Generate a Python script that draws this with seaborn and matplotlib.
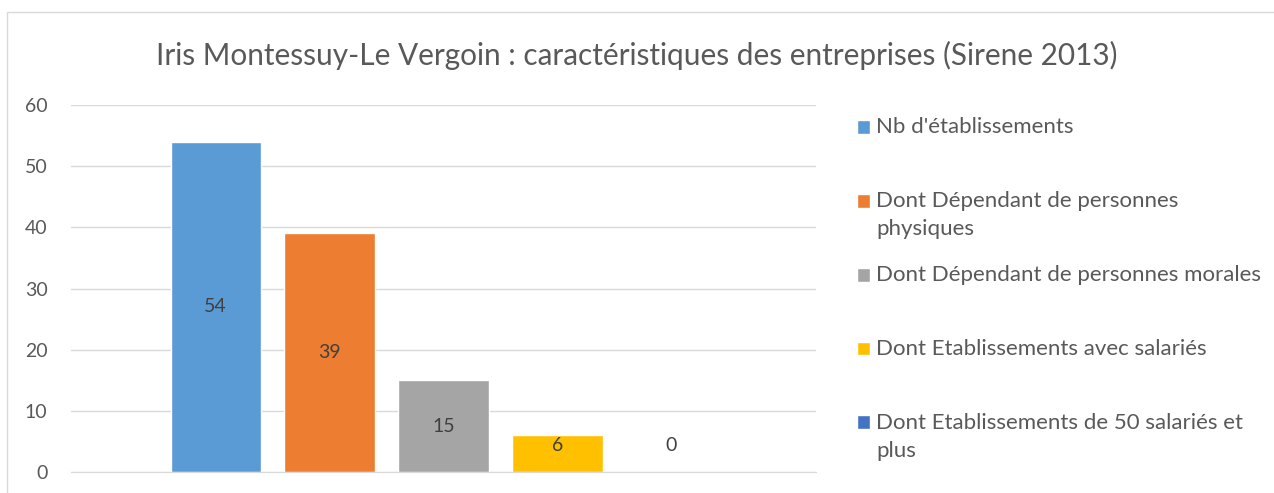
import numpy as np
import pandas as pd
import matplotlib.pyplot as plt
import seaborn as sns
from matplotlib.patches import Rectangle
from matplotlib.legend_handler import HandlerPatch

# données
series = [
    "Nb d'établissements",
    "Dont Dépendant de personnes\nphysiques",
    "Dont Dépendant de personnes morales",
    "Dont Etablissements avec salariés",
    "Dont Etablissements de 50 salariés et\nplus",
]
valeurs = [54, 39, 15, 6, 0]
couleurs = ["#5B9BD5", "#ED7D31", "#A5A5A5", "#FFC000", "#4472C4"]
titre = "Iris Montessuy-Le Vergoin : caractéristiques des entreprises (Sirene 2013)"

df = pd.DataFrame({"groupe": [""] * len(series), "serie": series, "valeur": valeurs})

sns.set_style("white")
plt.rcParams["font.family"] = ["Lato", "DejaVu Sans"]

fig = plt.figure(figsize=(12.74, 4.93), dpi=100)
ax = fig.add_axes([71 / 1274, 21 / 493, 745 / 1274, 367 / 493])

sns.barplot(data=df, x="groupe", y="valeur", hue="serie", hue_order=series,
            palette=couleurs, width=0.765, gap=0.21, errorbar=None,
            legend=False, ax=ax, saturation=1)

# étiquettes au centre des barres (minimum pour les petites valeurs)
for cont, v in zip(ax.containers, valeurs):
    p = cont.patches[0]
    ax.text(p.get_x() + p.get_width() / 2, max(v / 2, 4.3), str(v),
            ha="center", va="center", fontsize=14, color="#404040")

ax.set_ylim(0, 60)
ax.set_yticks(range(0, 61, 10))
ax.set_xticks([])
ax.set_xlabel("")
ax.set_ylabel("")
ax.tick_params(axis="y", length=0, pad=17, labelsize=14, labelcolor="#595959")
ax.yaxis.grid(True, color="#d9d9d9", linewidth=1)
ax.set_axisbelow(True)
for s in ["top", "right", "left"]:
    ax.spines[s].set_visible(False)
ax.spines["bottom"].set_color("#d9d9d9")

fig.text(0.5, 1 - 55 / 493, titre, ha="center", va="center",
         fontsize=21.4, color="#595959")

# légende : le carré aligné sur la première ligne
fs = 16
lsp = 1.52
decal = 10.4  # demi-interligne, en points


def carre(legend, orig_handle, xdescent, ydescent, width, height, fontsize):
    return Rectangle((-xdescent, -ydescent + decal), width, height)


handles = [c.patches[0] for c in ax.containers]
labels = [s if "\n" in s else s + "\n" for s in series]
hmap = {h: HandlerPatch(patch_func=carre) for h in handles}
leg = fig.legend(handles, labels, loc="upper left",
                 bbox_to_anchor=(857 / 1274, 1 - 117 / 493), frameon=False,
                 fontsize=fs, handlelength=0.58, handleheight=0.58,
                 handletextpad=0.27, labelspacing=1.15, borderpad=0,
                 borderaxespad=0, handler_map=hmap, labelcolor="#595959")
for t in leg.get_texts():
    t.set_linespacing(lsp)

# cadre du graphique
fig.patches.append(Rectangle((7 / 1274, -0.1), 2, 1.1 - 12 / 493,
                             transform=fig.transFigure, fill=False,
                             edgecolor="#d9d9d9", linewidth=1))

plt.savefig("out.png", dpi=100)
plt.close()
